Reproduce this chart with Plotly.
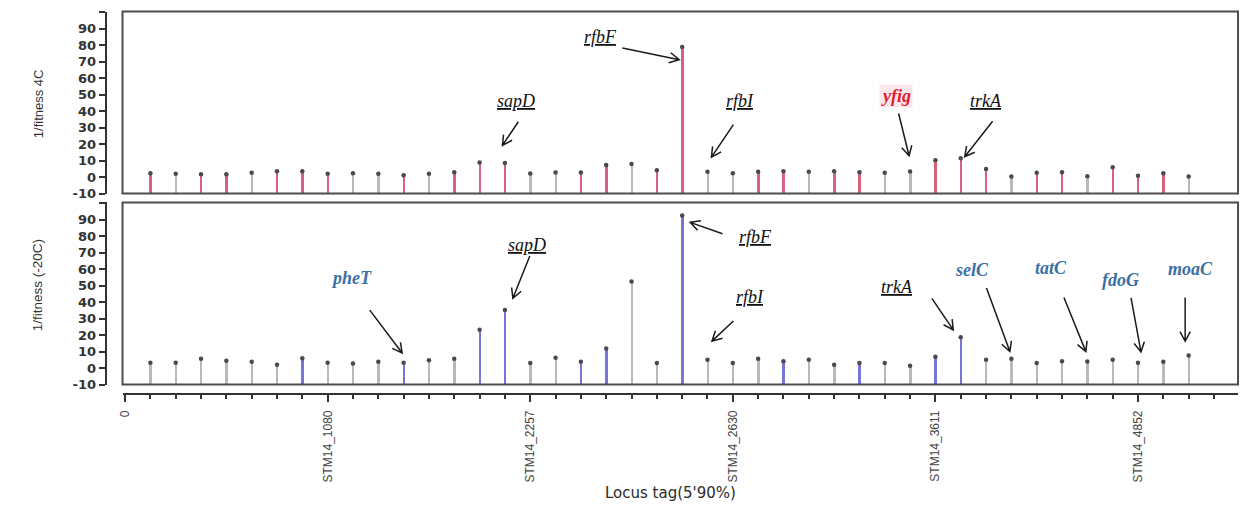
import math
import plotly.graph_objects as go

# ---- data -------------------------------------------------------------
locus_index = list(range(1, 43))

fitness_4c = [2.4, 2.0, 1.8, 1.8, 2.6, 3.6, 3.6, 2.0, 2.4, 2.0,
              1.2, 2.0, 3.0, 8.9, 8.5, 2.2, 2.8, 2.8, 7.3, 7.9,
              4.2, 79.0, 3.2, 2.4, 3.2, 3.6, 3.2, 3.6, 3.0, 2.6,
              3.4, 10.3, 11.5, 5.0, 0.4, 2.6, 3.0, 0.6, 6.0, 0.8,
              2.4, 0.4]

fitness_m20c = [3.2, 3.2, 5.6, 4.4, 3.8, 2.0, 6.0, 3.2, 2.8, 3.8,
                3.2, 4.8, 5.6, 23.3, 35.2, 3.0, 6.2, 3.8, 11.8, 52.6,
                3.0, 92.6, 5.0, 3.0, 5.6, 4.2, 5.0, 2.0, 3.0, 3.0,
                1.4, 6.8, 18.7, 5.0, 5.6, 3.0, 4.2, 4.0, 5.0, 3.2,
                3.8, 7.6]

# stem class per locus: h = highlighted, n = neutral
class_4c = "hnhhn" "hhhnn" "hnhhh" "nnhhn" "hhnnh" "hnhhn" "nhhhn" "hhnhh" "hn"
class_m20c = "nnnnn" "nhnnn" "hnnhh" "nnhhn" "nhnnn" "hnnhn" "nhhnn" "nnnnn" "nn"

tick_vals = [0, 8, 16, 24, 32, 40]
tick_text = ["0", "STM14_1080", "STM14_2257", "STM14_2630", "STM14_3611", "STM14_4852"]

y_ticks = [-10, 0, 10, 20, 30, 40, 50, 60, 70, 80, 90, 100]

# gene callouts: (panel, locus, label, style)
callouts = [
    ("top", 22, "rfbF", "u"), ("top", 15, "sapD", "u"), ("top", 23, "rfbI", "u"),
    ("top", 31, "yfig", "red"), ("top", 33, "trkA", "u"),
    ("bot", 11, "pheT", "blue"), ("bot", 15, "sapD", "u"), ("bot", 22, "rfbF", "u"),
    ("bot", 23, "rfbI", "u"), ("bot", 33, "trkA", "u"), ("bot", 35, "selC", "blue"),
    ("bot", 38, "tatC", "blue"), ("bot", 40, "fdoG", "blue"), ("bot", 42, "moaC", "blue"),
]
# pixel offsets from the stem top: arrow tip, arrow tail, label centre
callout_geom = [
    ((-3, 13), (-60, 1), (-82, -10)),
    ((-2.5, -18), (13.5, -42), (11.5, -63)),
    ((4, -15), (26, -48), (33, -72)),
    ((-1, -16), (-11.5, -59), (-14, -77)),
    ((4, -1.5), (32, -37.5), (25, -58)),
    ((-1.5, -10), (-34, -53.5), (-52, -86.5)),
    ((8, -12), (25, -55), (22.5, -66)),
    ((8, 7), (40.5, 18.5), (73.5, 22)),
    ((4.5, -19), (26, -39.5), (43, -63.5)),
    ((-7.5, -7.5), (-29, -39.5), (-64, -51.5)),
    ((-1.5, -7.5), (-25, -72), (-40, -90.5)),
    ((-1.5, -10), (-23.5, -65), (-36, -94.5)),
    ((3, -11), (-7, -66), (-18, -84.5)),
    ((-3.5, -14.5), (-3.5, -59), (2, -87.5)),
]

# ---- layout geometry ---------------------------------------------------
W, H = 1243, 508
PX_L, PX_R = 118, 1238          # plot frame, horizontal
X_RANGE = [-0.1, 43.95]
Y_RANGE = [-10, 100.5]
PANELS = {"top": (11.7, 196.7), "bot": (205.7, 390.7)}   # frame top/bottom px
AXIS_X_PX = 101                  # detached y axes
XAXIS_Y_PX = 400                 # detached locus axis

sx = (PX_R - PX_L) / (X_RANGE[1] - X_RANGE[0])


def sy(panel):
    t, b = PANELS[panel]
    return (b - t) / (Y_RANGE[1] - Y_RANGE[0])


def to_px(panel, x, y):
    t, b = PANELS[panel]
    return PX_L + (x - X_RANGE[0]) * sx, b - (y - Y_RANGE[0]) * sy(panel)


def to_data(panel, px, py):
    t, b = PANELS[panel]
    return X_RANGE[0] + (px - PX_L) / sx, Y_RANGE[0] + (b - py) / sy(panel)


def dom(panel):
    t, b = PANELS[panel]
    return [(H - b) / H, (H - t) / H]


COL = {"top": {"h": "#d8627e", "n": "#b9b9b9"},
       "bot": {"h": "#7676d6", "n": "#b9b9b9"}}

fig = go.Figure()

for panel, vals, cls, xa, ya in [("top", fitness_4c, class_4c, "x", "y"),
                                 ("bot", fitness_m20c, class_m20c, "x2", "y2")]:
    fig.add_trace(go.Bar(
        x=locus_index, y=[v - Y_RANGE[0] for v in vals], base=Y_RANGE[0],
        width=0.075, marker=dict(color=[COL[panel][c] for c in cls], line_width=0),
        xaxis=xa, yaxis=ya, showlegend=False, hoverinfo="skip"))
    fig.add_trace(go.Scatter(
        x=locus_index, y=vals, mode="markers",
        marker=dict(symbol="circle", size=4.5, color="#4a4a4a"),
        xaxis=xa, yaxis=ya, showlegend=False))

values = {"top": fitness_4c, "bot": fitness_m20c}
refs = {"top": ("x", "y"), "bot": ("x2", "y2")}

shapes = []
annotations = []
SERIF = "Liberation Serif, Times New Roman, serif"

for (panel, idx, label, style), (tip, tail, txt) in zip(callouts, callout_geom):
    sxp, syp = to_px(panel, idx, values[panel][idx - 1])
    tip_px = (sxp + tip[0], syp + tip[1])
    tail_px = (sxp + tail[0], syp + tail[1])
    txt_px = (sxp + txt[0], syp + txt[1])
    xr, yr = refs[panel]
    # shaft + open V head
    ang = math.atan2(tip_px[1] - tail_px[1], tip_px[0] - tail_px[0])
    head = []
    for da in (math.radians(28), -math.radians(28)):
        a = ang + math.pi + da
        head.append((tip_px[0] + 11 * math.cos(a), tip_px[1] + 11 * math.sin(a)))
    pts = [to_data(panel, *p) for p in (tail_px, tip_px, head[0], head[1])]
    path = (f"M {pts[0][0]},{pts[0][1]} L {pts[1][0]},{pts[1][1]} "
            f"M {pts[2][0]},{pts[2][1]} L {pts[1][0]},{pts[1][1]} L {pts[3][0]},{pts[3][1]}")
    shapes.append(dict(type="path", path=path, xref=xr, yref=yr,
                       line=dict(color="#1a1a1a", width=1.5)))
    tx, ty = to_data(panel, *txt_px)
    if style == "u":
        text = f"<span style='text-decoration:underline'><i>{label}</i></span>"
        font = dict(family=SERIF, size=18, color="#111111")
        bg = None
    elif style == "red":
        text = f"<b><i>{label}</i></b>"
        font = dict(family=SERIF, size=18, color="#e0202e")
        bg = "#fbe6ec"
    else:
        text = f"<b><i>{label}</i></b>"
        font = dict(family=SERIF, size=18, color="#3b6fa6")
        bg = None
    ann = dict(x=tx, y=ty, xref=xr, yref=yr, text=text, showarrow=False, font=font,
               xanchor="center", yanchor="middle")
    if bg:
        ann["bgcolor"] = bg
    annotations.append(ann)

# panel frames
for panel in ("top", "bot"):
    d = dom(panel)
    shapes.append(dict(type="rect", xref="paper", yref="paper",
                       x0=PX_L / W, x1=PX_R / W, y0=d[0], y1=d[1],
                       line=dict(color="#4d4d4d", width=2), fillcolor="rgba(0,0,0,0)"))

# axis titles
NARROW = "Liberation Sans Narrow, Liberation Sans, Arial, sans-serif"
annotations += [
    dict(x=33 / W, y=(H - 105) / H, xref="paper", yref="paper", text="1/fitness 4C",
         textangle=-90, showarrow=False, xanchor="center", yanchor="middle",
         font=dict(family=NARROW, size=13, color="#333")),
    dict(x=33 / W, y=(H - 290) / H, xref="paper", yref="paper", text="1/fitness (-20C)",
         textangle=-90, showarrow=False, xanchor="center", yanchor="middle",
         font=dict(family=NARROW, size=13.5, color="#333")),
    dict(x=668 / W, y=(H - 501) / H, xref="paper", yref="paper", text="Locus tag(5'90%)",
         showarrow=False, xanchor="center", yanchor="middle",
         font=dict(family="DejaVu Sans, Verdana, sans-serif", size=15, color="#2a2a2a")),
]

yaxis_common = dict(range=Y_RANGE, anchor="free", position=AXIS_X_PX / W,
                    showline=True, linecolor="#333", linewidth=2,
                    ticks="outside", ticklen=6, tickwidth=2, tickcolor="#333",
                    tickvals=y_ticks, ticktext=[str(v) if v < 100 else "" for v in y_ticks],
                    tickfont=dict(family="DejaVu Sans, Verdana, sans-serif", size=13,
                                  color="#333", weight="bold"),
                    showgrid=False, zeroline=False, fixedrange=True)

fig.update_layout(
    width=W, height=H, margin=dict(l=0, r=0, t=0, b=0),
    paper_bgcolor="white", plot_bgcolor="white",
    bargap=0, showlegend=False,
    xaxis=dict(domain=[PX_L / W, PX_R / W], range=X_RANGE, anchor="y", visible=False),
    yaxis=dict(domain=dom("top"), **yaxis_common),
    xaxis2=dict(domain=[PX_L / W, PX_R / W], range=X_RANGE, anchor="free",
                position=(H - XAXIS_Y_PX) / H, showline=True, linecolor="#333", linewidth=2,
                ticks="outside", ticklen=7, tickwidth=2, tickcolor="#333",
                tickvals=tick_vals, ticktext=tick_text, tickangle=-90, ticklabelstandoff=4,
                tickfont=dict(family="Liberation Sans, Arial, sans-serif", size=12, color="#444"),
                minor=dict(dtick=1, tick0=0, ticks="outside", ticklen=4, tickwidth=1.5,
                           tickcolor="#333", showgrid=False),
                showgrid=False, zeroline=False),
    yaxis2=dict(domain=dom("bot"), **yaxis_common),
    shapes=shapes, annotations=annotations,
)

fig.write_html("out.html")
